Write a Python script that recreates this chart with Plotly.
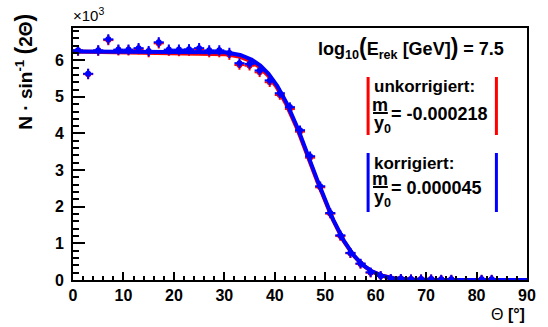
import math
import numpy as np
import plotly.graph_objects as go

# Bin centres (2 degree bins from 0 to 90 degrees)
theta = [1, 3, 5, 7, 9, 11, 13, 15, 17, 19, 21, 23, 25, 27, 29, 31, 33, 35, 37, 39,
         41, 43, 45, 47, 49, 51, 53, 55, 57, 59, 61, 63, 65, 67, 69, 71, 73, 75, 77, 79,
         81, 83, 85, 87, 89]
half_width = [1.0] * len(theta)

# Corrected distribution, N / sin(2 theta) in units of 10^3
korr = [6.27, 5.63, 6.27, 6.57, 6.29, 6.29, 6.33, 6.25, 6.49, 6.29, 6.29, 6.30, 6.33, 6.27, 6.27,
        6.20, 5.92, 5.90, 5.72, 5.45, 5.10, 4.72, 4.09, 3.38, 2.56, 1.83, 1.22, 0.74, 0.45, 0.21,
        0.11, 0.04, 0.04, 0.03, 0.03, 0.03, 0.02, 0.02, None, None, 0.02, 0.02, None, None, None]

# Uncorrected distribution, same binning
unkorr = [6.26, 5.62, 6.26, 6.55, 6.27, 6.27, 6.30, 6.22, 6.46, 6.26, 6.25, 6.26, 6.29, 6.22, 6.22,
          6.15, 5.87, 5.85, 5.67, 5.40, 5.05, 4.67, 4.05, 3.34, 2.53, 1.81, 1.20, 0.73, 0.44, 0.20,
          0.11, 0.04, 0.04, 0.03, 0.03, 0.03, 0.02, 0.02, None, None, 0.02, 0.02, None, None, None]

# Statistical uncertainties (10^3)
err = [0.14] * 16 + [0.13] * 15 + [0.12] * 14

# Fit parameters: plateau y0 with linear slope m/y0 and an error-function edge (mu, sigma)
y0_korr, slope_korr = 6.24, 0.000045
y0_unkorr, slope_unkorr = 6.24, -0.000218
edge_mu, edge_sigma = 47.35, 6.7

y_ticks = [0, 1, 2, 3, 4, 5, 6]
x_ticks = [0, 10, 20, 30, 40, 50, 60, 70, 80, 90]

RED = "#ff0000"
BLUE = "#0000ff"
FONT = "Liberation Sans"


def fit_model(t, y0, slope):
    t = np.asarray(t, dtype=float)
    edge = np.array([0.5 * math.erfc((v - edge_mu) / (math.sqrt(2.0) * edge_sigma)) for v in t])
    return y0 * (1.0 + slope * t) * edge


t_grid = np.linspace(0, 90, 721)

fig = go.Figure()


def add_points(values, color):
    fig.add_trace(go.Scatter(
        x=theta, y=values, mode="markers",
        marker=dict(size=0, color=color),
        error_x=dict(type="data", array=half_width, width=0, thickness=2, color=color),
        error_y=dict(type="data", array=err, width=0, thickness=2, color=color),
        showlegend=False, hoverinfo="skip"))


add_points(unkorr, RED)
fig.add_trace(go.Scatter(x=t_grid, y=fit_model(t_grid, y0_unkorr, slope_unkorr), mode="lines",
                         line=dict(color=RED, width=4), showlegend=False, hoverinfo="skip"))
add_points(korr, BLUE)
fig.add_trace(go.Scatter(x=t_grid, y=fit_model(t_grid, y0_korr, slope_korr), mode="lines",
                         line=dict(color=BLUE, width=4), showlegend=False, hoverinfo="skip"))

L, R, T, B = 73, 533, 28, 280
W, H = 548, 327


def px(x):
    return (x - L) / (R - L)


def py(y):
    return (B - y) / (B - T)


fig.update_layout(
    width=W, height=H,
    margin=dict(l=L, r=W - R, t=T, b=H - B),
    paper_bgcolor="white", plot_bgcolor="white",
    font=dict(family=FONT, color="black"),
    xaxis=dict(range=[0, 90], tickvals=x_ticks, ticks="inside", ticklen=8, tickwidth=2,
               tickcolor="black", showline=True, linecolor="black", linewidth=2, mirror=True,
               showgrid=False, zeroline=False,
               tickfont=dict(family=FONT, size=16, weight="bold"),
               minor=dict(ticks="inside", ticklen=4, tickwidth=1.5, dtick=2, tickcolor="black",
                          showgrid=False)),
    yaxis=dict(range=[0, 6.88], tickvals=y_ticks, ticks="inside", ticklen=12, tickwidth=2,
               tickcolor="black", showline=True, linecolor="black", linewidth=2, mirror=True,
               showgrid=False, zeroline=False, ticklabelstandoff=4,
               tickfont=dict(family=FONT, size=16, weight="bold"),
               minor=dict(ticks="inside", ticklen=6, tickwidth=1.5, dtick=0.2, tickcolor="black",
                          showgrid=False)),
)

ann = []


def text(x, y, s, size, xanchor="left", yanchor="middle", angle=0):
    ann.append(dict(x=px(x), y=py(y), xref="paper", yref="paper", text=s, showarrow=False,
                    xanchor=xanchor, yanchor=yanchor, textangle=angle,
                    font=dict(family=FONT, size=size, color="black")))


def big(ch, size):
    return '<span style="font-size:%dpx">%s</span>' % (size, ch)


# Axis titles and exponent
text(71, 26, "\u00d710<sup>3</sup>", 15, yanchor="bottom")
text(23, 72, "<b>N \u00b7 sin<sup>-1</sup> " + big("(", 23) + "2\u0398" + big(")", 23) + "</b>",
     19, xanchor="center", angle=-90)
text(533, 314, "\u0398 <b>[\u00b0]</b>", 16, xanchor="right")

# Energy bin label
text(415, 48, "<b>log<sub>10</sub>" + big("(", 23) + "E<sub>rek</sub> [GeV]" + big(")", 23)
     + " = 7.5</b>", 18, xanchor="center")

# Fit result blocks: title, value, colour, bar top/bottom, title y, fraction-line y
blocks = [("unkorrigiert:", "= -0.000218", RED, 77, 135, 86, 113),
          ("korrigiert:", "= 0.000045", BLUE, 153, 212, 163, 187)]
shapes = []
for title, value, color, ytop, ybot, ytitle, yfrac in blocks:
    for xb in (372, 502):
        shapes.append(dict(type="line", xref="paper", yref="paper",
                           x0=px(xb), x1=px(xb), y0=py(ytop), y1=py(ybot),
                           line=dict(color=color, width=3)))
    shapes.append(dict(type="line", xref="paper", yref="paper",
                       x0=px(377), x1=px(392), y0=py(yfrac), y1=py(yfrac),
                       line=dict(color="black", width=2)))
    text(376, ytitle, "<b>" + title + "</b>", 17)
    text(384.5, yfrac - 8, "<b>m</b>", 18, xanchor="center")
    text(376, yfrac + 11, "<b>y<sub>0</sub></b>", 18)
    text(393, yfrac + 1, "<b>" + value + "</b>", 18)

fig.update_layout(annotations=ann, shapes=shapes)

fig.write_html("out.html")
